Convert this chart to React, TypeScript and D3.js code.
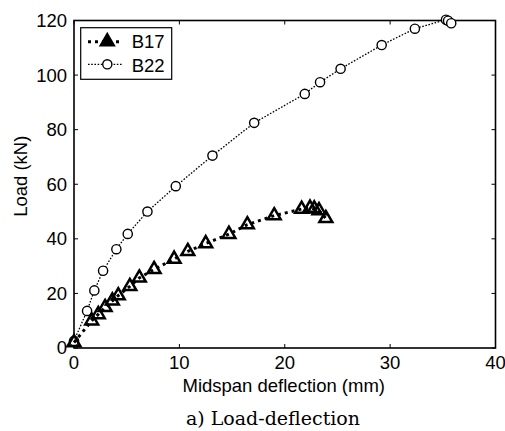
import React from "react";
import * as d3 from "d3";

const b17X = [0, 1.68, 2.3, 2.95, 3.64, 4.2, 5.3, 6.2, 7.6, 9.5, 10.8, 12.5, 14.7, 16.45, 19.0, 21.6, 22.4, 22.8, 23.25, 23.9];
const b17Y = [2, 10, 12.3, 14.9, 17.3, 19.2, 22.6, 25.7, 28.8, 32.6, 35.4, 38.3, 41.7, 45.2, 48.5, 50.9, 51.3, 51.0, 50.4, 47.5];
const b22X = [0, 1.24, 1.93, 2.76, 4.02, 5.1, 6.97, 9.66, 13.14, 17.1, 21.9, 23.35, 25.3, 29.2, 32.35, 35.3, 35.5, 35.8];
const b22Y = [2.6, 13.6, 21.1, 28.3, 36.2, 41.8, 50, 59.3, 70.5, 82.5, 93.1, 97.4, 102.3, 111, 117, 120.3, 119.9, 119];
const xTicks = [0, 10, 20, 30, 40];
const yTicks = [0, 20, 40, 60, 80, 100, 120];
const seriesNames = ["B17", "B22"];

const W = 505, H = 431;
const L = 74, R = 495.5, T = 20.5, B = 348;
const FONT = "'Liberation Sans', Arial, sans-serif";

export default function App() {
  const x = d3.scaleLinear().domain([0, 40]).range([L, R]);
  const y = d3.scaleLinear().domain([0, 120]).range([B, T]);
  const line = d3.line<[number, number]>().x(d => x(d[0])).y(d => y(d[1]));
  const b17 = b17X.map((v, i) => [v, b17Y[i]] as [number, number]);
  const b22 = b22X.map((v, i) => [v, b22Y[i]] as [number, number]);
  const tri = d3.symbol().type(d3.symbolTriangle).size(72)();

  return (
    <svg width={W} height={H} style={{ position: "absolute", left: 0, top: 0 }} fontFamily={FONT}>
      <rect x={0} y={0} width={W} height={H} fill="#fff" />
      {xTicks.map(t => (
        <g key={"xt" + t}>
          <line x1={x(t)} x2={x(t)} y1={B} y2={B - 4} stroke="#000" strokeWidth={1} />
          <line x1={x(t)} x2={x(t)} y1={T} y2={T + 4} stroke="#000" strokeWidth={1} />
          <text x={x(t)} y={369} textAnchor="middle" fontSize={18.5}>{t}</text>
        </g>
      ))}
      {yTicks.map(t => (
        <g key={"yt" + t}>
          <line x1={L} x2={L + 4} y1={y(t)} y2={y(t)} stroke="#000" strokeWidth={1} />
          <line x1={R} x2={R - 4} y1={y(t)} y2={y(t)} stroke="#000" strokeWidth={1} />
          <text x={67} y={y(t)} dy="0.35em" textAnchor="end" fontSize={18.5}>{t}</text>
        </g>
      ))}
      <rect x={L} y={T} width={R - L} height={B - T} fill="none" stroke="#000" strokeWidth={1.6} />
      <path d={line(b22) || ""} fill="none" stroke="#000" strokeWidth={1.3} strokeDasharray="1.6,1.6" />
      {b22.map((d, i) => (
        <circle key={"c" + i} cx={x(d[0])} cy={y(d[1])} r={4.6} fill="#fff" stroke="#000" strokeWidth={1.4} />
      ))}
      <path d={line(b17) || ""} fill="none" stroke="#000" strokeWidth={3} strokeDasharray="3,4" />
      {b17.map((d, i) => (
        <path key={"t" + i} d={tri || ""} transform={`translate(${x(d[0])},${y(d[1])})`} fill="none" stroke="#000" strokeWidth={2.5} strokeLinejoin="miter" />
      ))}
      <rect x={80.7} y={27.7} width={91} height={51.6} fill="#fff" stroke="#000" strokeWidth={1.2} />
      <line x1={88} x2={123} y1={41.7} y2={41.7} stroke="#000" strokeWidth={3} strokeDasharray="3,4" />
      <path d={tri || ""} transform="translate(107.3,41.7)" fill="#000" stroke="#000" strokeWidth={2.4} />
      <text x={131.7} y={48.3} fontSize={18.5}>{seriesNames[0]}</text>
      <line x1={88} x2={123} y1={64.3} y2={64.3} stroke="#000" strokeWidth={1.3} strokeDasharray="1.6,1.6" />
      <circle cx={107.3} cy={64.3} r={4.6} fill="#fff" stroke="#000" strokeWidth={1.4} />
      <text x={131.7} y={71.5} fontSize={18.5}>{seriesNames[1]}</text>
      <text x={(L + R) / 2 - 1} y={391.5} textAnchor="middle" fontSize={18.5}>Midspan deflection (mm)</text>
      <text transform={`translate(27,${(T + B) / 2 - 8}) rotate(-90)`} textAnchor="middle" fontSize={18.5}>Load (kN)</text>
      <text x={273} y={425} textAnchor="middle" fontSize={19} fontFamily="'DejaVu Serif', serif">a) Load-deflection</text>
    </svg>
  );
}
